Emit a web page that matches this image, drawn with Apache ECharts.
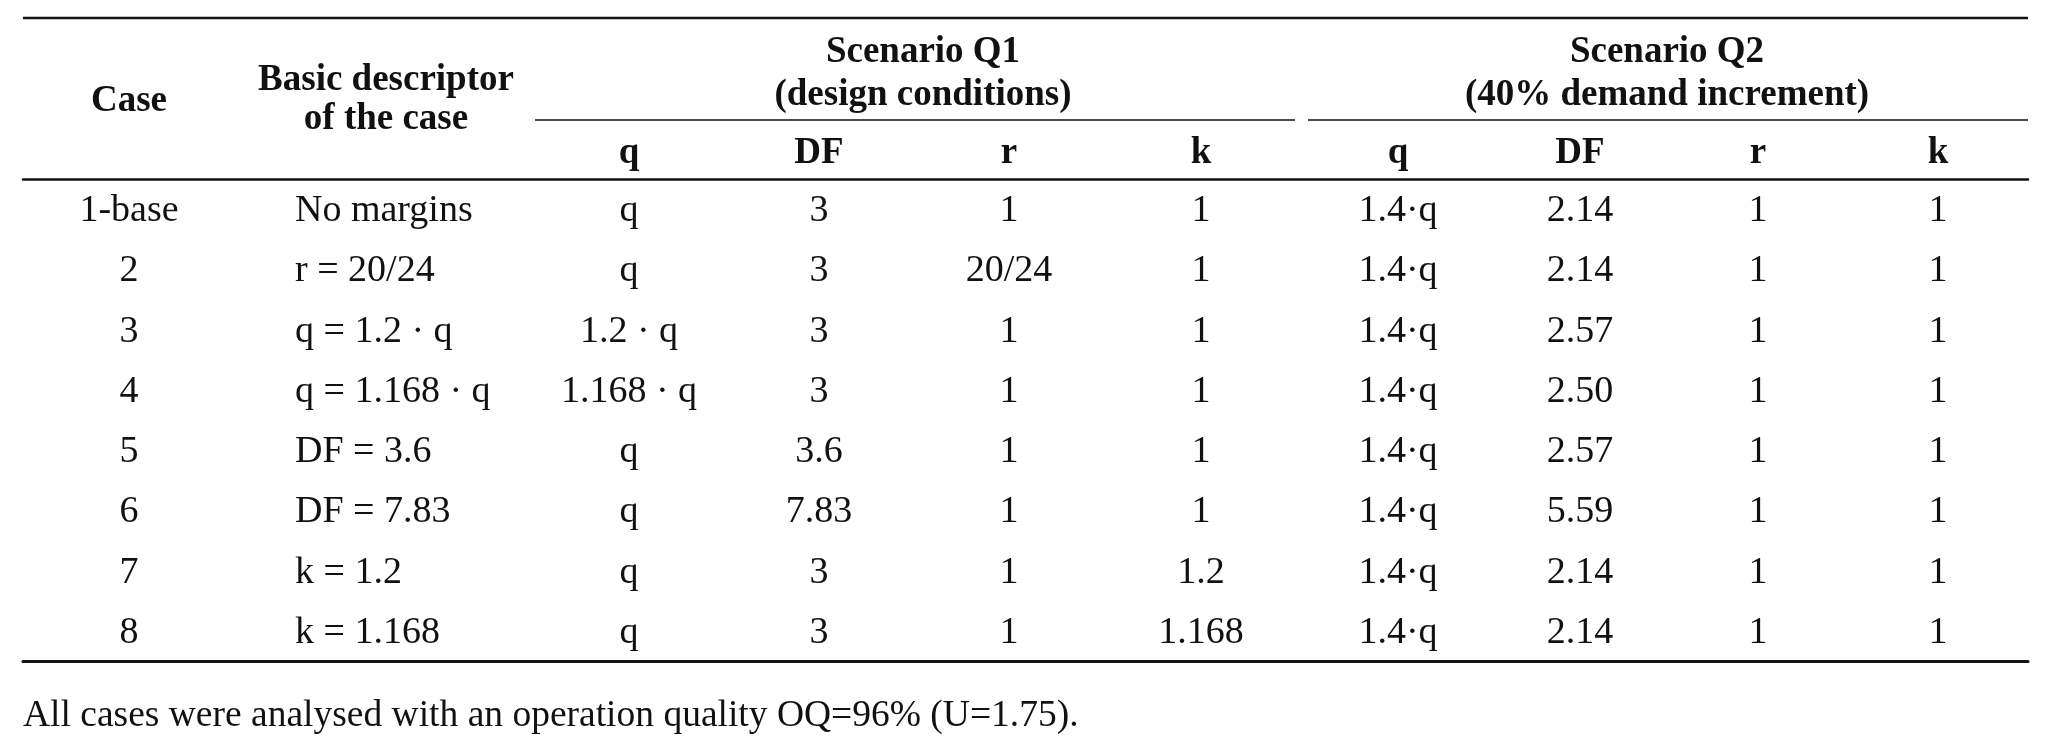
<!DOCTYPE html>
<html>
<head>
<meta charset="utf-8">
<script src="https://cdn.jsdelivr.net/npm/echarts@6/dist/echarts.min.js"></script>
<style>
    html, body { margin: 0; padding: 0; background: #fff; }
    #chart { width: 2045px; height: 749px; }
</style>
</head>
<body>
<div id="chart"></div>
<script>
// table contents, one array per column
var cases = ['1-base', '2', '3', '4', '5', '6', '7', '8'];
var descriptors = ['No margins', 'r = 20/24', 'q = 1.2 \u00b7 q', 'q = 1.168 \u00b7 q', 'DF = 3.6', 'DF = 7.83', 'k = 1.2', 'k = 1.168'];
var q1Q = ['q', 'q', '1.2 \u00b7 q', '1.168 \u00b7 q', 'q', 'q', 'q', 'q'];
var q1DF = ['3', '3', '3', '3', '3.6', '7.83', '3', '3'];
var q1R = ['1', '20/24', '1', '1', '1', '1', '1', '1'];
var q1K = ['1', '1', '1', '1', '1', '1', '1.2', '1.168'];
var q2Q = ['1.4\u00b7q', '1.4\u00b7q', '1.4\u00b7q', '1.4\u00b7q', '1.4\u00b7q', '1.4\u00b7q', '1.4\u00b7q', '1.4\u00b7q'];
var q2DF = ['2.14', '2.14', '2.57', '2.50', '2.57', '5.59', '2.14', '2.14'];
var q2R = ['1', '1', '1', '1', '1', '1', '1', '1'];
var q2K = ['1', '1', '1', '1', '1', '1', '1', '1'];

var subHeaders = ['q', 'DF', 'r', 'k', 'q', 'DF', 'r', 'k'];
var footnote = 'All cases were analysed with an operation quality OQ=96% (U=1.75).';

// layout: x position of each column on the (hidden) value axis
var colX = [106, 272, 606, 796, 986, 1178, 1375, 1557, 1735, 1915];
var colAlign = ['center', 'left', 'center', 'center', 'center', 'center', 'center', 'center', 'center', 'center'];
var columns = [cases, descriptors, q1Q, q1DF, q1R, q1K, q2Q, q2DF, q2R, q2K];

var FONT = '"Liberation Serif", "Times New Roman", serif';
var FS = 38;
var HFS = 37;
var INK = '#111';

var cellData = [];
columns.forEach(function(col, c) {
    col.forEach(function(txt, r) {
        cellData.push([c, r]);
    });
});

var chart = echarts.init(document.getElementById('chart'));

var gLeft = 23, gRight = 17, gTop = 179, gBottom = 88;
var W = 2045;

function headerText(x, y, txt) {
    return {
        type: 'text', x: x, y: y,
        style: { text: txt, font: 'bold ' + HFS + 'px ' + FONT, fill: INK, align: 'center', verticalAlign: 'middle' }
    };
}
function rule(x1, x2, y, w) {
    return { type: 'line', shape: { x1: x1, y1: y, x2: x2, y2: y }, style: { stroke: INK, lineWidth: w } };
}

var graphics = [
    rule(gLeft, W - gRight, 18, 2.5),
    rule(535, 1295, 120, 1.6),
    rule(1308, W - gRight, 120, 1.6),
    headerText(gLeft + colX[0], 101, 'Case'),
    headerText(386, 80, 'Basic descriptor'),
    headerText(386, 119, 'of the case'),
    headerText(923, 52, 'Scenario Q1'),
    headerText(923, 95, '(design conditions)'),
    headerText(1667, 52, 'Scenario Q2'),
    headerText(1667, 95, '(40% demand increment)'),
    {
        type: 'text', x: gLeft, y: 716,
        style: { text: footnote, font: '37.5px ' + FONT, fill: INK, align: 'left', verticalAlign: 'middle' }
    }
];
subHeaders.forEach(function(h, i) {
    graphics.push(headerText(gLeft + colX[i + 2], 153, h));
});

chart.setOption({
    backgroundColor: '#fff',
    animation: false,
    grid: { left: gLeft, right: gRight, top: gTop, bottom: gBottom },
    xAxis: [{
        type: 'value', min: 0, max: W - gLeft - gRight, position: 'bottom',
        axisLine: { show: true, onZero: false, lineStyle: { color: INK, width: 3 } },
        axisTick: { show: false }, axisLabel: { show: false }, splitLine: { show: false }
    }, {
        type: 'value', min: 0, max: W - gLeft - gRight, position: 'top',
        axisLine: { show: true, onZero: false, lineStyle: { color: INK, width: 2.5 } },
        axisTick: { show: false }, axisLabel: { show: false }, splitLine: { show: false }
    }],
    yAxis: {
        type: 'category', data: cases, inverse: true, show: false
    },
    series: [{
        type: 'custom',
        xAxisIndex: 0,
        data: cellData,
        renderItem: function(params, api) {
            var c = api.value(0);
            var r = api.value(1);
            var p = api.coord([colX[c], cases[r]]);
            return {
                type: 'text',
                x: p[0], y: p[1] + 2,
                style: {
                    text: columns[c][r],
                    font: FS + 'px ' + FONT,
                    fill: INK,
                    align: colAlign[c],
                    verticalAlign: 'middle'
                }
            };
        }
    }],
    graphic: graphics
});
</script>
</body>
</html>
